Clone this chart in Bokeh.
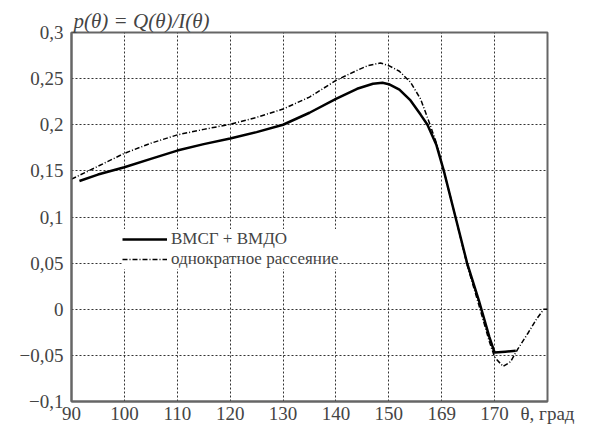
from bokeh.plotting import figure
from bokeh.models import Legend, LegendItem, FixedTicker
from bokeh.embed import file_html
from bokeh.resources import INLINE

# ВМСГ + ВМДО
theta_vmsg = [91.5, 95, 100, 105, 110, 115, 120, 125, 130, 135, 140, 144, 147, 148.8, 150,
              152, 154, 156, 157.3, 159, 160.4, 162.6, 164.8, 167, 169, 170, 172, 174]
p_vmsg = [0.139, 0.146, 0.154, 0.163, 0.172, 0.179, 0.185, 0.192, 0.200, 0.213, 0.228, 0.239,
          0.2445, 0.2455, 0.244, 0.238, 0.227, 0.211, 0.200, 0.178, 0.150, 0.100, 0.050, 0.010,
          -0.030, -0.047, -0.046, -0.045]

# однократное рассеяние
theta_single = [90, 95, 100, 105, 110, 115, 120, 125, 130, 135, 140, 144, 146, 148.4, 150, 152,
                154.1, 156, 157.8, 159, 160.4, 162.6, 164.8, 167, 169, 170, 171.6, 173, 174.4,
                176.3, 178, 179.3, 180]
p_single = [0.141, 0.155, 0.169, 0.180, 0.189, 0.195, 0.2005, 0.208, 0.217, 0.230, 0.248, 0.259,
            0.264, 0.267, 0.264, 0.258, 0.246, 0.228, 0.200, 0.180, 0.150, 0.100, 0.048, 0.005,
            -0.035, -0.052, -0.062, -0.057, -0.043, -0.026, -0.010, 0.0, 0.0]

x_ticks = [90, 100, 110, 120, 130, 140, 150, 160, 170, 180]
x_tick_labels = ["90", "100", "110", "120", "130", "140", "150", "169", "170", "θ, град"]
y_ticks = [-0.1, -0.05, 0, 0.05, 0.1, 0.15, 0.2, 0.25, 0.3]
y_tick_labels = ["−0,1", "−0,05", "0", "0,05", "0,1", "0,15", "0,2", "0,25", "0,3"]

FONT = "Liberation Serif"

p = figure(width=594, height=426,
           x_range=(90, 180), y_range=(-0.1, 0.3),
           output_backend="svg", toolbar_location=None,
           min_border_left=71, min_border_right=47, min_border_top=32, min_border_bottom=20,
           title="p(θ) = Q(θ)/I(θ)")
p.outline_line_color = "#666666"
p.outline_line_width = 2

p.title.text_font = FONT
p.title.text_font_size = "21px"
p.title.text_font_style = "italic"
p.title.align = "left"
p.title.offset = 2
p.title.standoff = 0

p.xaxis.ticker = FixedTicker(ticks=x_ticks)
p.xaxis.major_label_overrides = {t: l for t, l in zip(x_ticks, x_tick_labels)}
p.yaxis.ticker = FixedTicker(ticks=y_ticks)
p.yaxis.major_label_overrides = {t: l for t, l in zip(y_ticks, y_tick_labels)}

p.xaxis.axis_line_color = "#666666"
p.yaxis.axis_line_color = "#666666"
p.xaxis.axis_line_width = 2
p.yaxis.axis_line_width = 2
p.xaxis.major_tick_in = 0
p.xaxis.major_tick_out = 0
p.yaxis.major_tick_in = 0
p.yaxis.major_tick_out = 0
p.xaxis.minor_tick_in = 0
p.xaxis.minor_tick_out = 0
p.yaxis.minor_tick_in = 0
p.yaxis.minor_tick_out = 0
p.xaxis.major_label_text_font = FONT
p.yaxis.major_label_text_font = FONT
p.xaxis.major_label_text_font_size = "19px"
p.yaxis.major_label_text_font_size = "19px"
p.xaxis.major_label_standoff = 1
p.yaxis.major_label_standoff = 8

p.xgrid.grid_line_color = "#333333"
p.ygrid.grid_line_color = "#333333"
p.xgrid.grid_line_dash = "2 2"
p.ygrid.grid_line_dash = "2 2"

r1 = p.line(theta_vmsg, p_vmsg, line_color="black", line_width=2.5)
r2 = p.line(theta_single, p_single, line_color="black", line_width=1.5, line_dash="5 2 1 2")

legend = Legend(items=[LegendItem(label="ВМСГ + ВМДО", renderers=[r1]),
                       LegendItem(label="однократное рассеяние", renderers=[r2])],
                location=(51, 132), orientation="vertical",
                glyph_width=45, glyph_height=16, label_height=16, label_standoff=4,
                spacing=-5, padding=0, margin=0,
                label_text_font=FONT, label_text_font_size="17px",
                border_line_color=None, background_fill_color="white", background_fill_alpha=1.0)
p.add_layout(legend, "center")

open("out.html", "w").write(file_html(p, INLINE))
